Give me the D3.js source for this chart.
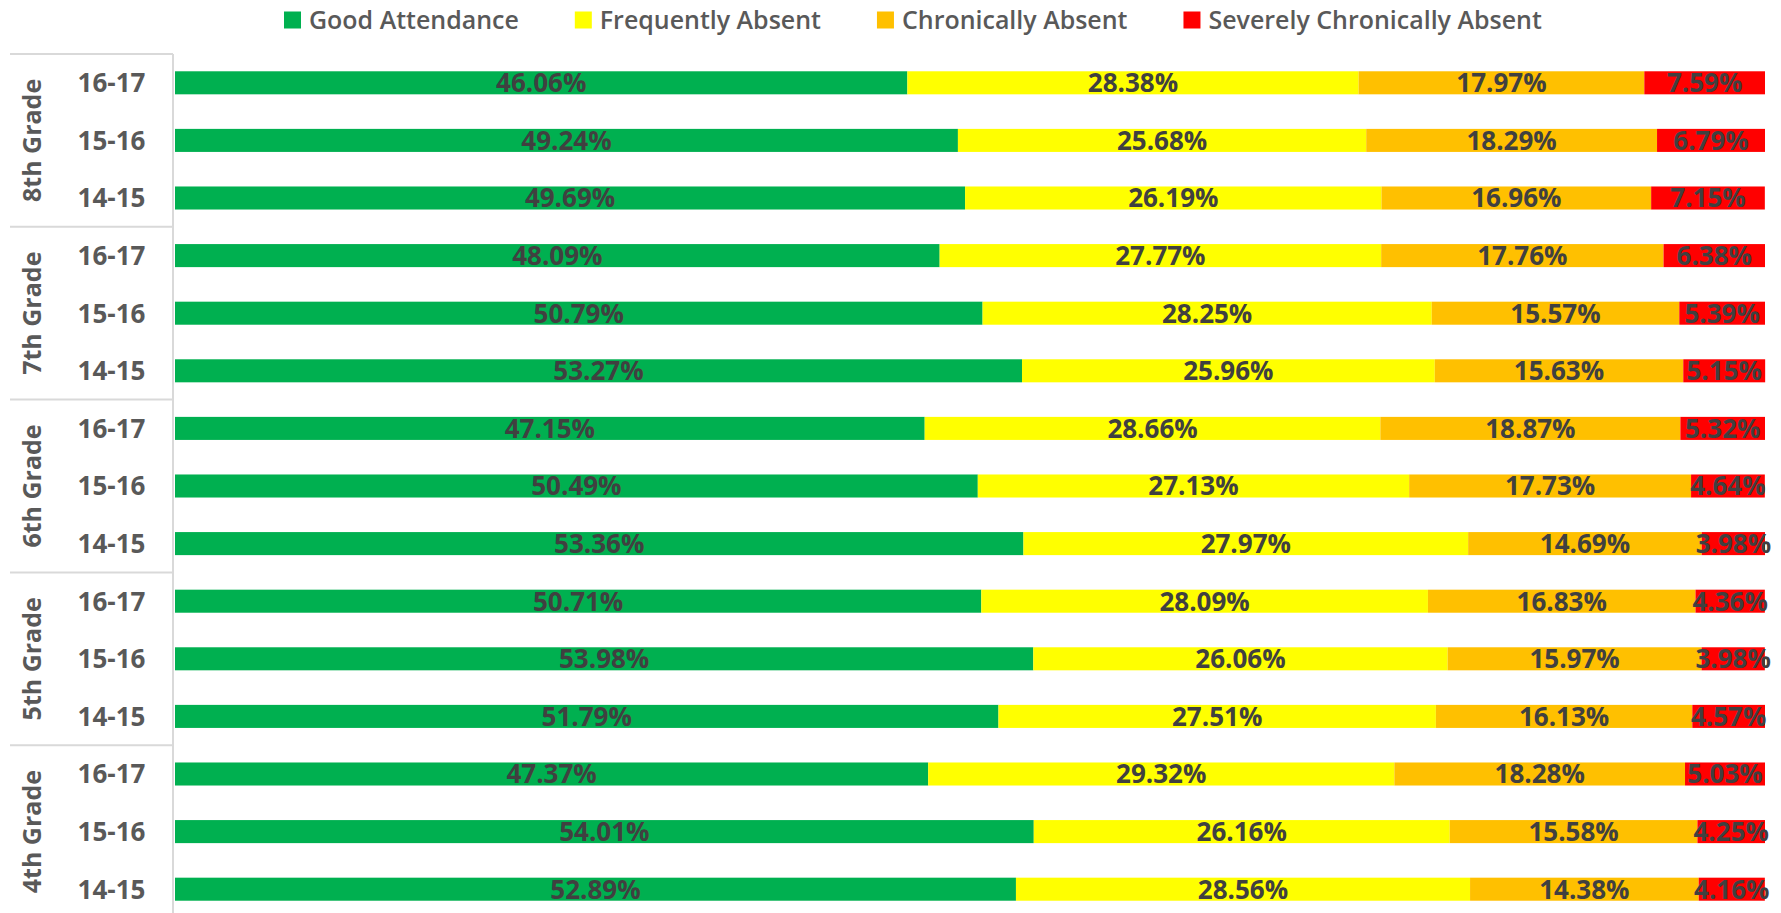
<!DOCTYPE html>
<html>
<head>
<meta charset="utf-8">
<script src="https://cdn.jsdelivr.net/npm/d3@7/dist/d3.min.js"></script>
<style>
  html, body { margin: 0; padding: 0; background: #fff; }
  svg { display: block; }
</style>
</head>
<body>
<svg id="chart" width="1781" height="913"></svg>
<script>
// ---- Data ----
const grades = ["8th Grade", "7th Grade", "6th Grade", "5th Grade", "4th Grade"];
const years = ["16-17", "15-16", "14-15"];
const seriesNames = ["Good Attendance", "Frequently Absent", "Chronically Absent", "Severely Chronically Absent"];
// rows in top-to-bottom order: grade x year
const goodAttendance = [46.06, 49.24, 49.69, 48.09, 50.79, 53.27, 47.15, 50.49, 53.36, 50.71, 53.98, 51.79, 47.37, 54.01, 52.89];
const frequentlyAbsent = [28.38, 25.68, 26.19, 27.77, 28.25, 25.96, 28.66, 27.13, 27.97, 28.09, 26.06, 27.51, 29.32, 26.16, 28.56];
const chronicallyAbsent = [17.97, 18.29, 16.96, 17.76, 15.57, 15.63, 18.87, 17.73, 14.69, 16.83, 15.97, 16.13, 18.28, 15.58, 14.38];
const severelyAbsent = [7.59, 6.79, 7.15, 6.38, 5.39, 5.15, 5.32, 4.64, 3.98, 4.36, 3.98, 4.57, 5.03, 4.25, 4.16];

// ---- Build rows ----
const seriesValues = [goodAttendance, frequentlyAbsent, chronicallyAbsent, severelyAbsent];
const rows = [];
grades.forEach((g, gi) => {
  years.forEach((y, yi) => {
    const i = gi * years.length + yi;
    const r = { id: g + "|" + y, grade: g, year: y };
    seriesNames.forEach((s, si) => r[s] = seriesValues[si][i]);
    rows.push(r);
  });
});

const colors = d3.scaleOrdinal().domain(seriesNames).range(["#00B050", "#FFFF00", "#FFC000", "#FF0000"]);

const svg = d3.select("#chart");
const FONT = "'Open Sans', 'DejaVu Sans', sans-serif";
const plotLeft = 175, plotRight = 1765, plotTop = 54, plotBottom = 918;

const x = d3.scaleLinear().domain([0, 100]).range([plotLeft, plotRight]);
const y = d3.scaleBand().domain(rows.map(d => d.id)).range([plotTop, plotBottom]).paddingInner(0.6).paddingOuter(0.3);

const stack = d3.stack().keys(seriesNames);
const stacked = stack(rows);

// bars
const layers = svg.append("g").selectAll("g").data(stacked).join("g")
  .attr("fill", d => colors(d.key));
layers.selectAll("rect").data(d => d.map(p => ({ p, key: d.key }))).join("rect")
  .attr("x", d => x(d.p[0]))
  .attr("width", d => x(d.p[1]) - x(d.p[0]))
  .attr("y", d => y(d.p.data.id))
  .attr("height", y.bandwidth());

// data labels
const labels = svg.append("g")
  .attr("font-family", FONT).attr("font-weight", "bold").attr("font-size", 26)
  .attr("fill", "#404040").attr("text-anchor", "middle");
stacked.forEach(layer => {
  labels.selectAll(null).data(layer).join("text")
    .attr("x", d => (x(d[0]) + x(d[1])) / 2)
    .attr("y", d => y(d.data.id) + y.bandwidth() / 2)
    .attr("dy", "0.36em")
    .text(d => (d[1] - d[0]).toFixed(2) + "%");
});

// category axis (multi-level)
const axisColor = "#D9D9D9";
const axisG = svg.append("g");
axisG.append("line")
  .attr("x1", 173).attr("x2", 173).attr("y1", plotTop).attr("y2", 913)
  .attr("stroke", axisColor).attr("stroke-width", 2);

grades.forEach((g, gi) => {
  const top = y(rows[gi * years.length].id) - (y.step() - y.bandwidth()) / 2;
  axisG.append("line")
    .attr("x1", 10).attr("x2", 173).attr("y1", top).attr("y2", top)
    .attr("stroke", axisColor).attr("stroke-width", 2);
});

// year labels
axisG.append("g").selectAll("text").data(rows).join("text")
  .attr("x", 111.5)
  .attr("y", d => y(d.id) + y.bandwidth() / 2)
  .attr("dy", "0.36em")
  .attr("text-anchor", "middle")
  .attr("font-family", FONT).attr("font-weight", "bold").attr("font-size", 26)
  .attr("fill", "#595959")
  .text(d => d.year);

// grade labels (rotated)
axisG.append("g").selectAll("text").data(grades).join("text")
  .attr("transform", (g, gi) => {
    const first = y(rows[gi * years.length].id);
    const last = y(rows[gi * years.length + years.length - 1].id) + y.bandwidth();
    const cy = (first + last) / 2;
    return `translate(32,${cy}) rotate(-90)`;
  })
  .attr("dy", "0.36em")
  .attr("text-anchor", "middle")
  .attr("font-family", FONT).attr("font-weight", "bold").attr("font-size", 25)
  .attr("fill", "#595959")
  .text(d => d);

// legend
const legend = svg.append("g");
const legendLeft = 284, legendRight = 1542;
const sq = 17, sqGap = 8, itemGap = 56;
const items = legend.selectAll("g").data(seriesNames).join("g");
items.append("rect").attr("width", sq).attr("height", sq).attr("y", 20 - sq / 2)
  .attr("fill", d => colors(d));
const texts = items.append("text")
  .attr("x", sq + sqGap).attr("y", 20).attr("dy", "0.36em")
  .attr("font-family", FONT).attr("font-weight", 600).attr("font-size", 100).attr("fill", "#595959")
  .text(d => d);
// fit font size so the legend spans the same width as the reference
let textW100 = 0;
texts.each(function () { textW100 += this.getComputedTextLength(); });
const avail = (legendRight - legendLeft) - seriesNames.length * (sq + sqGap) - itemGap * (seriesNames.length - 1);
const fs = Math.min(28, 100 * avail / textW100);
texts.attr("font-size", fs);
let start = legendLeft;
items.attr("transform", function () {
  const tx = start;
  start += sq + sqGap + d3.select(this).select("text").node().getComputedTextLength() + itemGap;
  return `translate(${tx},0)`;
});
</script>
</body>
</html>
